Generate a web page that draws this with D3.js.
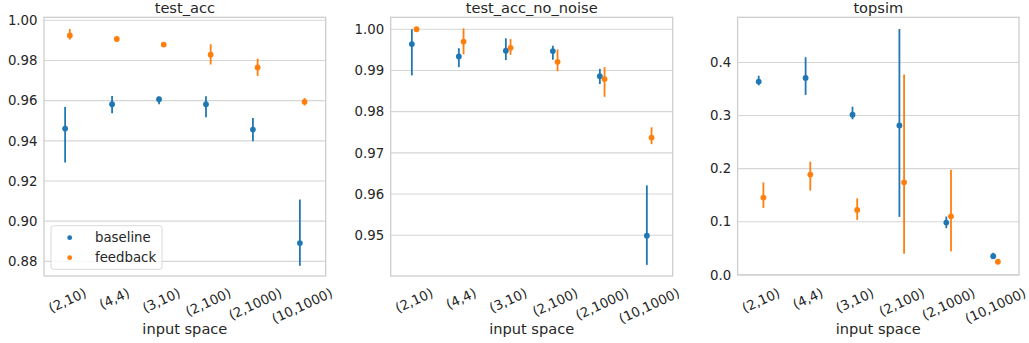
<!DOCTYPE html>
<html>
<head>
<meta charset="utf-8">
<script src="https://cdn.jsdelivr.net/npm/d3@7"></script>
<style>
  body { margin: 0; background: #fff; }
  svg { display: block; }
  text { font-family: "DejaVu Sans", sans-serif; fill: #262626; }
</style>
</head>
<body>
<svg id="chart" width="1029" height="343"></svg>
<script>
// categories on the x axis
const categories = ["(2,10)", "(4,4)", "(3,10)", "(2,100)", "(2,1000)", "(10,1000)"];
const seriesNames = ["baseline", "feedback"];
const seriesColors = ["#1f77b4", "#ff7f0e"];

// test_acc
const accBaseMean = [0.9461, 0.9582, 0.9607, 0.9582, 0.9456, 0.8891];
const accBaseLo   = [0.9292, 0.9537, 0.9582, 0.9517, 0.9398, 0.8778];
const accBaseHi   = [0.9569, 0.9623, 0.9619, 0.9622, 0.9514, 0.9108];
const accFeedMean = [0.9925, 0.9907, 0.9879, 0.9829, 0.9765, 0.9594];
const accFeedLo   = [0.9904, 0.9902, 0.9875, 0.9780, 0.9723, 0.9576];
const accFeedHi   = [0.9957, 0.9911, 0.9883, 0.9881, 0.9809, 0.9613];
const accTicks = [0.88, 0.90, 0.92, 0.94, 0.96, 0.98, 1.00];

// test_acc_no_noise
const nnBaseMean = [0.9964, 0.9934, 0.9948, 0.9947, 0.9886, 0.9499];
const nnBaseLo   = [0.9888, 0.9908, 0.9925, 0.9926, 0.9867, 0.9428];
const nnBaseHi   = [1.0000, 0.9954, 0.9978, 0.9960, 0.9904, 0.9621];
const nnFeedMean = [1.0000, 0.9970, 0.9955, 0.9921, 0.9879, 0.9737];
const nnFeedLo   = [1.0000, 0.9939, 0.9938, 0.9898, 0.9836, 0.9721];
const nnFeedHi   = [1.0000, 1.0002, 0.9976, 0.9951, 0.9908, 0.9762];
const nnTicks = [0.95, 0.96, 0.97, 0.98, 0.99, 1.00];

// topsim
const tsBaseMean = [0.364, 0.371, 0.3015, 0.2814, 0.0984, 0.035];
const tsBaseLo   = [0.357, 0.339, 0.293, 0.109, 0.0877, 0.0294];
const tsBaseHi   = [0.375, 0.410, 0.3166, 0.4632, 0.1097, 0.0414];
const tsFeedMean = [0.1454, 0.1887, 0.1222, 0.1742, 0.110, 0.0245];
const tsFeedLo   = [0.126, 0.1586, 0.1034, 0.0395, 0.0444, 0.0235];
const tsFeedHi   = [0.174, 0.213, 0.144, 0.3773, 0.198, 0.0255];
const tsTicks = [0.0, 0.1, 0.2, 0.3, 0.4];

const panels = [
  { title: "test_acc", x0: 44, x1: 325.7, y1: 276, domain: [0.8727, 1.0015], ticks: accTicks, fmt: ".2f",
    series: [[accBaseMean, accBaseLo, accBaseHi], [accFeedMean, accFeedLo, accFeedHi]], legend: true },
  { title: "test_acc_no_noise", x0: 390.7, x1: 672.7, y1: 276, domain: [0.9401, 1.0029], ticks: nnTicks, fmt: ".2f",
    series: [[nnBaseMean, nnBaseLo, nnBaseHi], [nnFeedMean, nnFeedLo, nnFeedHi]] },
  { title: "topsim", x0: 737.6, x1: 1019, y1: 275, domain: [-0.0005, 0.4852], ticks: tsTicks, fmt: ".1f",
    series: [[tsBaseMean, tsBaseLo, tsBaseHi], [tsFeedMean, tsFeedLo, tsFeedHi]] }
];

const svg = d3.select("#chart");
const plotTop = 17.3;
const gridColor = "#d6d6d6";
const tickSize = 13.3;
const labelSize = 14.6;
const angle = 25;

panels.forEach(function(p) {
  let g = svg.append("g");

  let x = d3.scaleBand().domain(categories).range([p.x0, p.x1]);
  let y = d3.scaleLinear().domain(p.domain).range([p.y1, plotTop]);
  let dodge = x.bandwidth() * 0.05;

  // grid
  g.selectAll(".grid").data(p.ticks).enter().append("line")
    .attr("x1", p.x0).attr("x2", p.x1)
    .attr("y1", d => y(d)).attr("y2", d => y(d))
    .style("stroke", gridColor).style("stroke-width", 1.1);

  // frame
  g.append("rect")
    .attr("x", p.x0).attr("y", plotTop)
    .attr("width", p.x1 - p.x0).attr("height", p.y1 - plotTop)
    .style("fill", "none").style("stroke", "#cccccc").style("stroke-width", 1.25);

  // y axis labels
  let yAxis = d3.axisLeft(y).tickValues(p.ticks).tickFormat(d3.format(p.fmt)).tickSize(0).tickPadding(6.5);
  let ya = g.append("g").attr("transform", "translate(" + p.x0 + ",0)").call(yAxis);
  ya.select(".domain").remove();
  ya.selectAll("text").style("font-size", tickSize + "px")
    .style("font-family", "DejaVu Sans").attr("fill", "#262626");

  // x tick labels, rotated, bbox top at fixed line
  let xl = g.selectAll(".xl").data(categories).enter().append("text")
    .attr("text-anchor", "middle")
    .attr("dominant-baseline", "central")
    .style("font-size", tickSize + "px")
    .text(d => d);
  xl.each(function(d) {
    let w = this.getComputedTextLength();
    let h = tickSize * 1.17;
    let rad = angle * Math.PI / 180;
    let cx = x(d) + x.bandwidth() / 2;
    let cy = 285 + (w * Math.sin(rad) + h * Math.cos(rad)) / 2;
    d3.select(this).attr("x", cx).attr("y", cy)
      .attr("transform", "rotate(" + (-angle) + "," + cx + "," + cy + ")");
  });

  // axis label and title
  g.append("text")
    .attr("x", (p.x0 + p.x1) / 2).attr("y", 334)
    .attr("text-anchor", "middle").style("font-size", labelSize + "px")
    .text("input space");
  g.append("text")
    .attr("x", (p.x0 + p.x1) / 2).attr("y", 12.5)
    .attr("text-anchor", "middle").style("font-size", labelSize + "px")
    .text(p.title);

  // error bars and points
  p.series.forEach(function(s, si) {
    let off = si === 0 ? -dodge : dodge;
    let col = seriesColors[si];
    let cx = i => x(categories[i]) + x.bandwidth() / 2 + off;
    g.selectAll(".err" + si).data(s[0]).enter().append("line")
      .attr("x1", (d, i) => cx(i)).attr("x2", (d, i) => cx(i))
      .attr("y1", (d, i) => y(s[1][i])).attr("y2", (d, i) => y(s[2][i]))
      .style("stroke", col).style("stroke-width", 1.8);
    g.selectAll(".pt" + si).data(s[0]).enter().append("circle")
      .attr("cx", (d, i) => cx(i)).attr("cy", d => y(d))
      .attr("r", 2.9)
      .style("fill", col);
  });

  // legend
  if (p.legend) {
    let lg = g.append("g");
    lg.append("rect")
      .attr("x", 51).attr("y", 225.7).attr("width", 111).attr("height", 43.6)
      .attr("rx", 2.5)
      .style("fill", "rgba(255,255,255,0.8)").style("stroke", "#d9d9d9").style("stroke-width", 1);
    seriesNames.forEach(function(n, i) {
      lg.append("circle").attr("cx", 69.7).attr("cy", 237.7 + i * 20).attr("r", 2.4)
        .style("fill", seriesColors[i]);
      lg.append("text").attr("x", 95).attr("y", 237.7 + i * 20)
        .attr("dominant-baseline", "central")
        .style("font-size", tickSize + "px").text(n);
    });
  }
});
</script>
</body>
</html>
